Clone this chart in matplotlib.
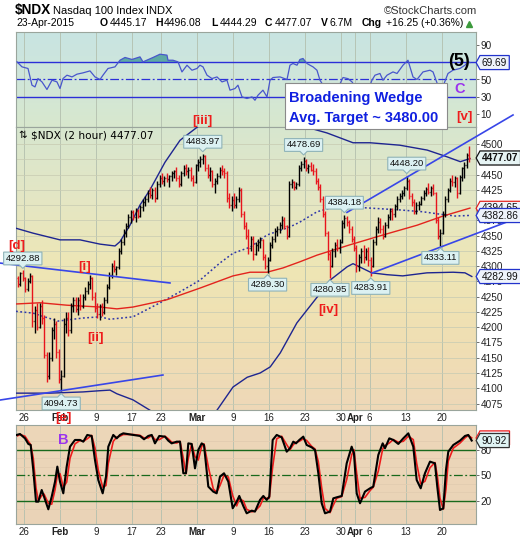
import numpy as np
import matplotlib
matplotlib.use("Agg")
import matplotlib.pyplot as plt
from matplotlib.collections import LineCollection
from matplotlib.path import Path
from matplotlib.patches import Rectangle
from matplotlib.colors import LinearSegmentedColormap

# ------------------------------------------------------------------ data
# trading-day index: 0 = 26-Jan-2015, -1 = 23-Jan-2015 ... 61 = 23-Apr-2015
trading_days = list(range(-1, 62))
bars_per_day = 3

bar_open = [
    4280, 4270, 4288, 4281, 4262, 4276, 4284, 4210, 4228, 4200, 4235, 4215,
    4155, 4120, 4150, 4195, 4205, 4160, 4115, 4120, 4205, 4215, 4195, 4235,
    4245, 4230, 4245, 4235, 4250, 4260, 4270, 4280, 4250, 4232, 4222, 4235,
    4225, 4245, 4265, 4285, 4300, 4295, 4298, 4325, 4340, 4355, 4365, 4380,
    4388, 4380, 4390, 4382, 4396, 4405, 4410, 4420, 4416, 4425, 4412, 4435,
    4445, 4440, 4445, 4442, 4447, 4452, 4455, 4445, 4435, 4452, 4460, 4455,
    4458, 4445, 4438, 4465, 4470, 4476, 4480, 4460, 4450, 4456, 4435, 4440,
    4448, 4458, 4455, 4452, 4412, 4400, 4408, 4400, 4410, 4425, 4385, 4365,
    4350, 4330, 4345, 4320, 4335, 4340, 4342, 4315, 4300, 4310, 4335, 4345,
    4358, 4360, 4368, 4375, 4365, 4350, 4435, 4438, 4430, 4434, 4460, 4468,
    4472, 4460, 4464, 4458, 4455, 4440, 4430, 4410, 4385, 4355, 4320, 4300,
    4325, 4335, 4330, 4340, 4370, 4378, 4372, 4360, 4345, 4330, 4300, 4315,
    4325, 4315, 4325, 4310, 4300, 4340, 4360, 4372, 4360, 4350, 4368, 4380,
    4390, 4385, 4398, 4410, 4415, 4420, 4428, 4440, 4415, 4405, 4390, 4400,
    4402, 4412, 4420, 4426, 4422, 4428, 4420, 4375, 4350, 4355, 4385, 4410,
    4425, 4440, 4438, 4444, 4420, 4446, 4460, 4465, 4482]
bar_high = [
    4284, 4290, 4293, 4283, 4280, 4288, 4286, 4235, 4240, 4240, 4245, 4220,
    4160, 4160, 4200, 4215, 4210, 4165, 4130, 4215, 4225, 4225, 4240, 4250,
    4250, 4250, 4255, 4255, 4265, 4275, 4285, 4282, 4258, 4240, 4238, 4240,
    4250, 4270, 4290, 4305, 4310, 4300, 4330, 4345, 4360, 4370, 4385, 4392,
    4392, 4395, 4393, 4400, 4410, 4415, 4425, 4430, 4428, 4430, 4440, 4450,
    4452, 4448, 4452, 4450, 4455, 4458, 4462, 4450, 4455, 4465, 4468, 4462,
    4462, 4450, 4468, 4475, 4480, 4484, 4482, 4468, 4462, 4458, 4445, 4452,
    4462, 4466, 4460, 4455, 4420, 4415, 4420, 4415, 4430, 4428, 4390, 4372,
    4360, 4350, 4350, 4340, 4345, 4348, 4344, 4320, 4315, 4340, 4350, 4362,
    4365, 4372, 4382, 4380, 4368, 4440, 4442, 4440, 4438, 4465, 4472, 4479,
    4475, 4468, 4470, 4468, 4460, 4445, 4435, 4415, 4390, 4358, 4325, 4330,
    4340, 4345, 4345, 4375, 4384, 4382, 4375, 4365, 4350, 4335, 4320, 4330,
    4335, 4330, 4332, 4315, 4345, 4365, 4380, 4378, 4368, 4372, 4385, 4395,
    4395, 4402, 4415, 4420, 4425, 4432, 4448, 4442, 4420, 4410, 4405, 4406,
    4415, 4425, 4430, 4436, 4432, 4434, 4422, 4380, 4360, 4390, 4415, 4428,
    4445, 4450, 4448, 4446, 4450, 4462, 4470, 4485, 4496.08]
bar_low = [
    4266, 4268, 4276, 4258, 4260, 4272, 4200, 4190, 4195, 4198, 4205, 4150,
    4110, 4115, 4145, 4180, 4150, 4108, 4094.73, 4118, 4190, 4185, 4190, 4225,
    4225, 4220, 4228, 4232, 4245, 4255, 4262, 4245, 4225, 4215, 4212, 4218,
    4222, 4240, 4262, 4280, 4290, 4285, 4296, 4320, 4335, 4348, 4362, 4370,
    4375, 4372, 4378, 4380, 4390, 4398, 4405, 4412, 4410, 4405, 4410, 4430,
    4435, 4432, 4438, 4430, 4440, 4445, 4440, 4430, 4432, 4448, 4450, 4445,
    4440, 4432, 4436, 4455, 4462, 4468, 4455, 4445, 4440, 4430, 4420, 4435,
    4445, 4450, 4445, 4405, 4395, 4390, 4395, 4395, 4405, 4380, 4360, 4345,
    4320, 4325, 4310, 4318, 4325, 4330, 4310, 4295, 4289.30, 4308, 4330, 4340,
    4350, 4355, 4360, 4360, 4345, 4348, 4428, 4425, 4426, 4432, 4455, 4460,
    4455, 4452, 4455, 4450, 4435, 4425, 4405, 4380, 4350, 4310, 4280.95, 4298,
    4315, 4325, 4322, 4338, 4362, 4365, 4355, 4340, 4325, 4290, 4292, 4305,
    4305, 4310, 4300, 4283.91, 4298, 4335, 4355, 4355, 4345, 4348, 4362, 4375,
    4375, 4380, 4392, 4405, 4410, 4415, 4425, 4410, 4398, 4385, 4385, 4392,
    4400, 4408, 4415, 4418, 4415, 4416, 4370, 4345, 4333.11, 4352, 4380, 4405,
    4422, 4432, 4430, 4412, 4418, 4440, 4445, 4460, 4470]
bar_close = [
    4270, 4288, 4281, 4262, 4276, 4284, 4210, 4228, 4200, 4235, 4215, 4155,
    4120, 4150, 4195, 4205, 4160, 4115, 4120, 4205, 4215, 4195, 4235, 4245,
    4230, 4245, 4235, 4250, 4260, 4270, 4280, 4250, 4232, 4222, 4235, 4225,
    4245, 4265, 4285, 4300, 4295, 4298, 4325, 4340, 4355, 4365, 4380, 4388,
    4380, 4390, 4382, 4396, 4405, 4410, 4420, 4416, 4425, 4412, 4435, 4445,
    4440, 4445, 4442, 4447, 4452, 4455, 4445, 4435, 4452, 4460, 4455, 4458,
    4445, 4438, 4465, 4470, 4476, 4480, 4460, 4450, 4456, 4435, 4440, 4448,
    4458, 4455, 4452, 4412, 4400, 4408, 4400, 4410, 4425, 4385, 4365, 4350,
    4330, 4345, 4320, 4335, 4340, 4342, 4315, 4300, 4310, 4335, 4345, 4358,
    4360, 4368, 4375, 4365, 4350, 4435, 4438, 4430, 4434, 4460, 4468, 4472,
    4460, 4464, 4458, 4455, 4440, 4430, 4410, 4385, 4355, 4320, 4300, 4325,
    4335, 4330, 4340, 4370, 4378, 4372, 4360, 4345, 4330, 4300, 4315, 4325,
    4315, 4325, 4310, 4300, 4340, 4360, 4372, 4360, 4350, 4368, 4380, 4390,
    4385, 4398, 4410, 4415, 4420, 4428, 4440, 4415, 4405, 4390, 4400, 4402,
    4412, 4420, 4426, 4422, 4428, 4420, 4375, 4350, 4355, 4385, 4410, 4425,
    4440, 4438, 4444, 4420, 4446, 4460, 4465, 4482, 4477.07]

# overlays (x = trading-day index, y = price)
upper_band_x = [-1.11, 1.25, 5.0, 7.78, 10.56, 12.64, 13.33, 14.72, 16.11, 17.5, 19.58,
                21.67, 24.44, 28.6, 32.8, 36.9, 39.7, 42.1, 45.7, 48.06, 52.2, 56.0,
                58.75, 60.6, 61.94]
upper_band = [4362, 4354, 4343, 4343, 4336, 4333, 4340, 4367, 4400, 4425, 4470,
              4506, 4531, 4556, 4564, 4548, 4526, 4518, 4502, 4502, 4498, 4490,
              4479, 4471, 4476]
lower_band_x = [-1.11, 1.25, 3.61, 8.19, 10.56, 11.94, 12.9, 15.14, 17.5, 19.5, 21.7,
                24.4, 26.8, 29.03, 31.0, 32.8, 34.2, 35.6, 37.9, 39.3, 40.7, 42.5,
                44.9, 45.7, 48.3, 50.4, 52.6, 55.97, 59.6, 61.25, 62.2]
lower_band = [4092, 4092, 4092, 4094, 4096, 4097, 4091, 4081, 4064, 4048, 4038,
              4040, 4064, 4102, 4118, 4125, 4135, 4158, 4207, 4228, 4249, 4277,
              4299, 4304, 4289, 4286, 4284, 4289, 4290, 4289, 4283]
middle_x = [-1.11, 1.25, 4.72, 8.19, 10.56, 11.94, 15.14, 18.9, 21.67, 24.44, 27.2,
            29.03, 31.4, 33.75, 36.9, 38.3, 40.7, 42.5, 45.3, 48.06, 52.2, 55.4,
            57.8, 59.9, 61.94]
middle = [4226, 4223, 4210, 4215, 4217, 4213, 4217, 4240, 4258, 4277, 4305,
          4321, 4331, 4351, 4364, 4372, 4389, 4395, 4397, 4395, 4392, 4389,
          4385, 4382, 4383]
red_ma_x = [-1.11, 2.22, 5.97, 10.56, 12.9, 15.14, 19.86, 24.44, 29.03, 31.4, 33.75,
            35.97, 38.3, 40.7, 45.3, 49.86, 54.6, 58.2, 61.94]
red_ma = [4238, 4240, 4236, 4233, 4230, 4233, 4245, 4264, 4284, 4290, 4290,
          4297, 4307, 4318, 4335, 4351, 4367, 4382, 4395]

# trend lines (start / end, trading-day index and price)
wedge_top_x, wedge_top_y = [44.86, 67.92], [4388, 4547.5]
wedge_bot_x, wedge_bot_y = [48.33, 68.89], [4288.7, 4380.4]
left_top_x, left_top_y = [-3.33, 20.28], [4305, 4272.4]
left_bot_x, left_bot_y = [-3.33, 19.3], [4080.7, 4121.7]

# RSI(14)
rsi_x = [-0.97, -0.28, 0.56, 1.11, 1.53, 1.94, 2.5, 3.19, 3.89, 4.58, 5.0, 5.42, 5.97,
         6.67, 7.36, 8.19, 9.17, 9.86, 10.56, 10.97, 11.67, 12.64, 13.33, 14.03, 15.0,
         16.11, 16.53, 17.92, 18.89, 19.86, 20.0, 20.69, 21.39, 21.94, 22.64, 23.33,
         24.03, 24.44, 24.86, 25.42, 26.11, 26.81, 27.5, 28.19, 28.61, 29.31, 29.72,
         30.28, 30.97, 31.67, 32.08, 32.5, 33.19, 33.75, 34.17, 34.58, 35.56, 36.53,
         36.94, 37.36, 37.92, 38.33, 38.75, 39.31, 39.72, 40.14, 40.69, 41.11, 41.8,
         42.5, 43.19, 43.89, 44.31, 45.0, 45.56, 46.25, 46.94, 47.78, 48.33, 48.75,
         49.44, 49.86, 50.42, 51.25, 51.81, 52.64, 53.33, 54.03, 54.58, 55.42, 56.39,
         56.81, 57.36, 57.78, 58.06, 58.33, 58.89, 59.58, 60.56, 61.25, 61.67, 61.94]
rsi_val = [70.5, 64.7, 62.8, 43.4, 41.4, 51.1, 47.2, 38.4, 49.2, 47.2, 39.5, 51.1, 55,
           53, 56.2, 57.7, 60, 53, 50, 55, 62.8, 64.7, 72.4, 75.6, 73.3,
           76.3, 70.5, 75.6, 79.4, 78.3, 72.4, 72.4, 70.5, 58.8, 66.6, 60.8,
           62.8, 66.6, 64.7, 55, 51.1, 53, 47.2, 49.2, 37.6, 39.5, 43.4,
           29.8, 27.9, 29.8, 25.9, 31.7, 37.6, 29.8, 49.2, 52.3, 53, 50,
           66.6, 68.6, 66.6, 73.3, 74.4, 68.6, 66.6, 64.7, 60.8, 49.2, 40,
           30, 38, 45, 52.3, 51, 47.2, 38, 42, 37, 49.2, 55,
           57, 49.2, 55, 58.8, 57, 66.6, 72.4, 53, 50, 58.8, 60.8,
           58.8, 46.2, 35, 33, 45, 57, 60.8, 62.8, 66.6, 70.5, 69.69]

# Slow stochastic %K (black) and %D (red)
sto_x = [-1.01, -0.56, 0.14, 0.60, 0.93, 1.29, 1.67, 1.99, 2.46, 2.78,
         3.38, 3.85, 4.31, 4.63, 5.0, 5.46, 5.93, 6.39, 7.08, 7.78,
         8.24, 8.79, 9.40, 9.86, 10.32, 10.93, 11.39, 11.71, 12.40, 12.88,
         13.33, 13.79, 15.18, 16.11, 16.67, 17.26, 17.74, 18.19, 18.79, 19.58,
         20.04, 20.51, 21.21, 21.67, 22.13, 22.5, 22.82, 23.29, 23.75, 24.21,
         24.68, 25.0, 25.6, 26.29, 26.76, 27.22, 27.78, 28.38, 28.99, 29.54,
         29.9, 30.46, 30.93, 31.63, 32.08, 32.78, 33.24, 33.71, 34.07, 34.54,
         35.1, 35.79, 36.49, 36.94, 37.4, 37.78, 38.24, 38.79, 39.26, 39.96,
         40.42, 40.88, 41.35, 41.81, 42.5, 42.96, 43.43, 44.13, 44.82, 45.51,
         45.83, 46.21, 46.67, 47.36, 48.06, 48.51, 49.21, 49.82, 50.14, 50.74,
         51.29, 51.99, 52.68, 53.38, 54.07, 54.54, 55.1, 55.69, 56.39, 57.08,
         57.4, 57.78, 58.24, 58.61, 58.93, 59.63, 60.56, 61.25, 61.71, 62.18]
sto_k = [97.5, 98.6, 93.5, 86.9, 85.7, 56.3, 19, 19, 32.7, 24.9,
         10, 24.9, 42.5, 60.2, 42.5, 28.8, 60.2, 83.7, 91.6, 91.6,
         89.6, 97.5, 96.3, 68, 44.5, 28.8, 48.4, 83.7, 97.5, 93.5,
         97.5, 99.4, 97.5, 96.3, 92.4, 96.3, 97.5, 87.6, 96.3, 95.5,
         90.8, 87.6, 89.6, 89.6, 52.4, 52.4, 87.6, 86.9, 58.2, 79.8,
         87.6, 85.7, 36.7, 30.8, 28.8, 48.4, 52.4, 42.5, 11.2, 19,
         25.7, 13.9, 5.3, 8.4, 7.3, 21, 25.7, 21, 24.9, 91.6,
         97.5, 94.7, 77.8, 81.8, 89.6, 87.6, 91.6, 95.5, 85.7, 82.9,
         79.8, 52.4, 17.1, 5.3, 7.3, 22.9, 24.1, 25.7, 64.1, 83.7,
         75.9, 28.8, 17.1, 30.8, 34.7, 36.7, 73.9, 87.6, 81.8, 93.5,
         91.6, 86.9, 93.5, 99.4, 83.7, 44.5, 34.7, 52.4, 66.1, 64.1,
         36.7, 9.2, 11.2, 56.3, 77.8, 85.7, 90.8, 96.3, 97.5, 90.92]
sto_d = [96, 98, 96, 90, 86, 70, 35, 20, 26, 28,
         17, 16, 33, 50, 52, 36, 42, 70, 87, 91,
         90, 93, 97, 82, 56, 36, 38, 64, 90, 95,
         96, 98, 98, 97, 94, 94, 97, 92, 92, 96,
         93, 89, 88, 90, 70, 52, 70, 87, 72, 68,
         84, 87, 60, 34, 30, 38, 50, 48, 26, 14,
         22, 20, 10, 7, 8, 14, 23, 23, 23, 60,
         93, 96, 86, 80, 86, 89, 90, 93, 91, 84,
         81, 66, 35, 11, 6, 15, 23, 25, 45, 74,
         80, 52, 23, 24, 32, 36, 55, 81, 85, 88,
         92, 89, 90, 96, 92, 64, 40, 43, 59, 65,
         50, 23, 10, 34, 67, 82, 88, 94, 97, 94]

# date axis
date_ticks = [0, 5, 10, 15, 19, 24, 29, 34, 39, 44, 46, 48, 53, 58]
date_labels = ['26', 'Feb', '9', '17', '23', 'Mar', '9', '16', '23', '30', 'Apr', '6', '13', '20']
month_labels = {'Feb', 'Mar', 'Apr'}

price_ticks = list(range(4075, 4525, 25))
price_tick_hidden = {4475, 4400}          # covered by value boxes
rsi_ticks = [10, 30, 50, 70, 90]
rsi_tick_hidden = {70}
sto_ticks = [20, 50, 80]

# labelled swing points: (bar number, price, text, above?)
swing_points = [(2, 4292.88, '4292.88', True), (18, 4094.73, '4094.73', False),
                (77, 4483.97, '4483.97', True), (104, 4289.30, '4289.30', False),
                (119, 4478.69, '4478.69', True), (130, 4280.95, '4280.95', False),
                (136, 4384.18, '4384.18', True), (147, 4283.91, '4283.91', False),
                (162, 4448.20, '4448.20', True), (176, 4333.11, '4333.11', False)]

# ------------------------------------------------------------------ figure
plt.rcParams['font.family'] = ['Liberation Sans', 'DejaVu Sans']
W, H = 520.0, 540.0
fig = plt.figure(figsize=(W / 100, H / 100), dpi=100)
fig.patch.set_facecolor('white')


def add_ax(x0, y0, x1, y1):
    return fig.add_axes([x0 / W, 1 - y1 / H, (x1 - x0) / W, (y1 - y0) / H])


ax_r = add_ax(16, 32, 476, 127)
ax_p = add_ax(16, 127, 476, 410)
ax_s = add_ax(16, 425, 476, 524)
XLIM = (-1.11, 62.78)


def gradient_bg(ax, colors):
    cmap = LinearSegmentedColormap.from_list('bg', colors)
    grad = np.linspace(0, 1, 256).reshape(-1, 1)
    ax.imshow(grad, extent=(0, 1, 0, 1), transform=ax.transAxes, aspect='auto',
              cmap=cmap, zorder=-5, interpolation='bilinear')


gradient_bg(ax_r, ['#c8e4e2', '#d0e6da', '#d8e8cd'])
gradient_bg(ax_p, ['#d7e6cf', '#e4e7c4', '#eee6b5', '#f0dfb3', '#eed8b8'])
gradient_bg(ax_s, ['#edd7b9', '#ead3b7'])

for ax in (ax_r, ax_p, ax_s):
    ax.set_xlim(*XLIM)
    for s in ax.spines.values():
        s.set_color('#9aa59c')
        s.set_linewidth(0.8)
    for t in date_ticks:
        ax.axvline(t, color='#b3bfae', lw=0.6, zorder=0)
    ax.yaxis.tick_right()
    ax.tick_params(axis='y', length=2, width=0.6, pad=1.2, labelsize=7.2,
                   color='#555555', labelcolor='#222222')
    ax.tick_params(axis='x', length=0, pad=2.5, labelsize=7, labelcolor='#222222')
    ax.set_xticks(date_ticks)

# ---------------- RSI panel
ax_r.set_ylim(-5.2, 105.2)
ax_r.set_yticks(rsi_ticks)
ax_r.set_yticklabels(['' if v in rsi_tick_hidden else str(v) for v in rsi_ticks])
ax_r.set_xticklabels([])
rv = np.array(rsi_val)
ax_r.fill_between(rsi_x, rv, 70, where=rv > 70, interpolate=True,
                  color='#5ea9a5', lw=0, zorder=1)
ax_r.axhline(70, color='#2b2fd8', lw=1.0, zorder=2)
ax_r.axhline(30, color='#2b2fd8', lw=1.0, zorder=2)
ax_r.axhline(50, color='#2b2fd8', lw=0.9, dashes=(7, 2, 1.5, 2), zorder=2)
ax_r.plot(rsi_x, rsi_val, color='#4856cc', lw=0.9, zorder=3)

# ---------------- price panel
ax_p.set_ylim(4064.4, 4527.8)
ax_p.set_yticks(price_ticks)
ax_p.set_yticklabels(['' if v in price_tick_hidden else str(v) for v in price_ticks])
for v in price_ticks:
    ax_p.axhline(v, color='#c9ccb3', lw=0.55, zorder=0)
ax_p.set_xticklabels(date_labels)

day_of_bar = np.repeat(trading_days, bars_per_day)
slot = np.tile(np.arange(bars_per_day), len(trading_days))
bx = day_of_bar + (slot + 0.5) / bars_per_day
o, h, l, c = map(np.array, (bar_open, bar_high, bar_low, bar_close))
prev = np.concatenate([[o[0]], c[:-1]])
cols = np.where(c >= prev, '#000000', '#e8141c')
tw = 0.13
segs, scol = [], []
for i in range(len(bx)):
    segs += [[(bx[i], l[i]), (bx[i], h[i])],
             [(bx[i] - tw, o[i]), (bx[i], o[i])],
             [(bx[i], c[i]), (bx[i] + tw, c[i])]]
    scol += [cols[i]] * 3
ax_p.add_collection(LineCollection(segs, colors=scol, linewidths=1.0, zorder=4))

ax_p.plot(upper_band_x, upper_band, color='#1e2590', lw=1.0, zorder=3)
ax_p.plot(lower_band_x, lower_band, color='#1e2590', lw=1.0, zorder=3)
ax_p.plot(middle_x, middle, color='#2e36a8', lw=1.1, ls=(0, (1.2, 1.6)), zorder=3)
ax_p.plot(red_ma_x, red_ma, color='#e3241d', lw=1.0, zorder=3)
for tx, ty in ((wedge_top_x, wedge_top_y), (wedge_bot_x, wedge_bot_y),
               (left_top_x, left_top_y), (left_bot_x, left_bot_y)):
    ax_p.plot(tx, ty, color='#3846e8', lw=1.2, zorder=5, clip_on=False)

# ---------------- stochastic panel
ax_s.set_ylim(-7.3, 109.2)
ax_s.set_yticks(sto_ticks)
for v in (10, 30, 40, 60, 70, 90):
    ax_s.axhline(v, color='#e2ccb0', lw=0.6, zorder=0)
ax_s.axhline(80, color='#18691c', lw=1.0, zorder=1)
ax_s.axhline(20, color='#18691c', lw=1.0, zorder=1)
ax_s.axhline(50, color='#18691c', lw=0.9, dashes=(7, 2, 1.5, 2), zorder=1)
ax_s.plot(sto_x, sto_d, color='#ee1c1c', lw=1.2, zorder=2)
ax_s.plot(sto_x, sto_k, color='#000000', lw=1.5, zorder=3)
ax_s.set_xticklabels(date_labels)

for ax in (ax_p, ax_s):
    for lab in ax.get_xticklabels():
        if lab.get_text() in month_labels:
            lab.set_fontweight('bold')


# ---------------- callout boxes
def _box(pointer):
    def style(x0, y0, width, height, mutation_size):
        p = 0.2 * mutation_size
        x0, y0, x1, y1 = x0 - p, y0 - p, x0 + width + p, y0 + height + p
        t = 0.38 * mutation_size
        xm, ym = (x0 + x1) / 2, (y0 + y1) / 2
        if pointer == 'down':
            v = [(x0, y0), (xm - t, y0), (xm, y0 - t), (xm + t, y0), (x1, y0), (x1, y1), (x0, y1)]
        elif pointer == 'up':
            v = [(x0, y0), (x1, y0), (x1, y1), (xm + t, y1), (xm, y1 + t), (xm - t, y1), (x0, y1)]
        else:
            v = [(x0, y0), (x1, y0), (x1, y1), (x0, y1), (x0 - t * 1.0, ym)]
        v = v + [v[0]]
        return Path(v, [Path.MOVETO] + [Path.LINETO] * (len(v) - 2) + [Path.CLOSEPOLY])
    return style


for b, val, txt, above in swing_points:
    ax_p.annotate(txt, xy=(bx[b], val), xytext=(0, 12 if above else -12),
                  textcoords='offset pixels', ha='center', va='center',
                  fontsize=6.8, color='#111111', zorder=8, annotation_clip=False,
                  bbox=dict(boxstyle=_box('down' if above else 'up'),
                            fc='#dcf1f2', ec='#8fb3b8', lw=0.8))


def right_callout(ax, val, txt, ec, fc='#eef3fb', bold=False, z=9):
    ax.annotate(txt, xy=(1, val), xycoords=('axes fraction', 'data'),
                xytext=(6, 0), textcoords='offset pixels', ha='left', va='center',
                fontsize=7.3, fontweight='bold' if bold else 'normal', color='#111111',
                zorder=z, annotation_clip=False,
                bbox=dict(boxstyle=_box('left'), fc=fc, ec=ec, lw=0.9))


right_callout(ax_r, rsi_val[-1], '69.69', '#2233cc')
right_callout(ax_p, 4394.65, '4394.65', '#e3241d', z=9)
right_callout(ax_p, 4382.86, '4382.86', '#2233cc', z=10)
right_callout(ax_p, 4282.99, '4282.99', '#2233cc')
right_callout(ax_p, bar_close[-1], '4477.07', '#111111', fc='#e6f4f4', bold=True, z=11)
right_callout(ax_s, sto_d[-1], '93.80', '#ee1c1c', z=9)
right_callout(ax_s, sto_k[-1], '90.92', '#333333', fc='#e0f4f4', z=10)


# ---------------- texts
def ftext(px, py, s, **kw):
    kw.setdefault('va', 'center')
    return fig.text(px / W, 1 - py / H, s, **kw)


ftext(15, 10, '$NDX', fontsize=9.8, fontweight='bold')
ftext(53, 10.5, 'Nasdaq 100 Index', fontsize=8)
ftext(146, 10.5, 'INDX', fontsize=8)
ftext(477, 10.5, '\u00a9StockCharts.com', fontsize=8, ha='right', color='#333333')
ftext(16, 23.5, '23-Apr-2015', fontsize=7.5)
for px, lab, npx, num in ((100, 'O', 110, '4445.17'), (155, 'H', 164, '4496.08'),
                          (211, 'L', 220, '4444.29'), (265, 'C', 275, '4477.07'),
                          (321, 'V', 330, '6.7M'), (362, 'Chg', 386, '+16.25 (+0.36%)')):
    ftext(px, 23.5, lab, fontsize=7.5, fontweight='bold')
    ftext(npx, 23.5, num, fontsize=7.5)
ax_r.plot([0.985], [1.085], marker='^', ms=4, color='#3c9a3c', transform=ax_r.transAxes,
          clip_on=False)

ftext(18, 135, '\u21c5', fontsize=7.4, family='DejaVu Sans')
ftext(31, 135, '$NDX (2 hour) 4477.07', fontsize=7.6, family='DejaVu Sans')

fig.add_artist(Rectangle((285 / W, 1 - 129 / H), 162 / W, 46 / H, transform=fig.transFigure,
                         fc='white', ec='#8a8a8a', lw=0.8, zorder=20))
ftext(289, 98, 'Broadening Wedge', fontsize=10.5, fontweight='bold', color='#1020e0', zorder=21)
ftext(289, 118, 'Avg. Target ~ 3480.00', fontsize=10.5, fontweight='bold', color='#1020e0',
      zorder=21)

red = '#ee1c1c'
purple = '#9b33ee'
for px, py, s, col, fs in ((202, 121, '[iii]', red, 9.5), (464, 117, '[v]', red, 9.5),
                           (17, 246, '[d]', red, 9.5), (85, 267, '[i]', red, 9.5),
                           (96, 338, '[ii]', red, 9.5), (328, 310, '[iv]', red, 9.5),
                           (63, 418, '[e]', red, 9.5), (459, 61, '(5)', '#000000', 13),
                           (460, 89, 'C', purple, 10.5), (63, 440, 'B', purple, 10.5)):
    ftext(px, py, s, color=col, fontsize=fs, fontweight='bold', ha='center', zorder=22)

fig.savefig('out.png', dpi=100, facecolor='white')
